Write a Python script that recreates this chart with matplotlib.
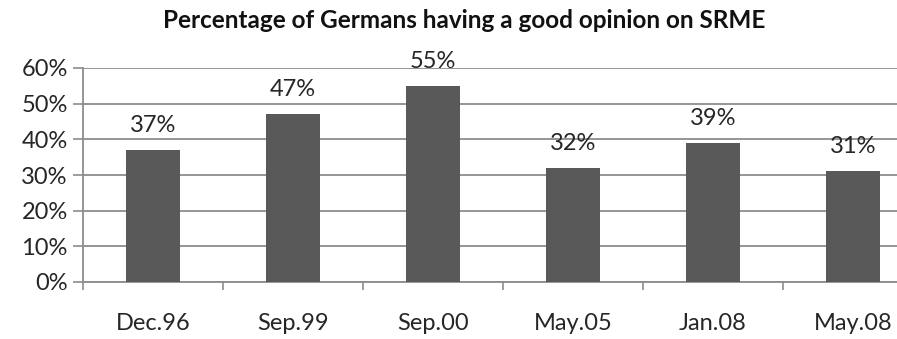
import matplotlib.pyplot as plt
import numpy as np

categories = ['Dec.96', 'Sep.99', 'Sep.00', 'May.05', 'Jan.08', 'May.08']
values = [37, 47, 55, 32, 39, 31]
title = 'Percentage of Germans having a good opinion on SRME'

plt.rcParams['font.family'] = ['Lato', 'DejaVu Sans']

W, H = 897, 339
fig = plt.figure(figsize=(W / 100, H / 100), dpi=100)
# plot area in pixels: x 83..923 (right part cut off by the image), y 68..282
ax = fig.add_axes([83 / W, 1 - 282 / H, 840 / W, 214 / H])

x = np.arange(len(categories))
ax.bar(x, values, width=0.39, color='#595959', zorder=3)

for xi, v in zip(x, values):
    ax.text(xi, v + 6.9, f'{v}%', ha='center', va='center', fontsize=17,
            color='#262626', zorder=4)

ax.set_xlim(-0.5, len(categories) - 0.5)
ax.set_ylim(0, 60)
ax.set_yticks(range(0, 61, 10))
ax.set_yticklabels([f'{t}%' for t in range(0, 61, 10)], fontsize=17, color='#262626')
ax.yaxis.grid(True, color='#8c8c8c', linewidth=1.3, zorder=0)

ax.set_xticks(x)
ax.set_xticklabels(categories, fontsize=17, color='#262626')
ax.set_xticks(np.arange(-0.5, len(categories), 1), minor=True)
ax.tick_params(axis='x', which='major', length=0, pad=22)
ax.tick_params(axis='x', which='minor', length=6, color='#8c8c8c', width=1.2)
ax.tick_params(axis='y', length=7, color='#8c8c8c', width=1.2, pad=4)

for side in ['top', 'right']:
    ax.spines[side].set_visible(False)
ax.spines['left'].set_color('#8c8c8c')
ax.spines['left'].set_linewidth(1.3)
ax.spines['bottom'].set_color('#8c8c8c')
ax.spines['bottom'].set_linewidth(1.3)

fig.text(464 / W, 1 - 20 / H, title, ha='center', va='center', fontsize=17.5,
         fontweight='bold', color='#111111')

fig.savefig('out.png', dpi=100)
